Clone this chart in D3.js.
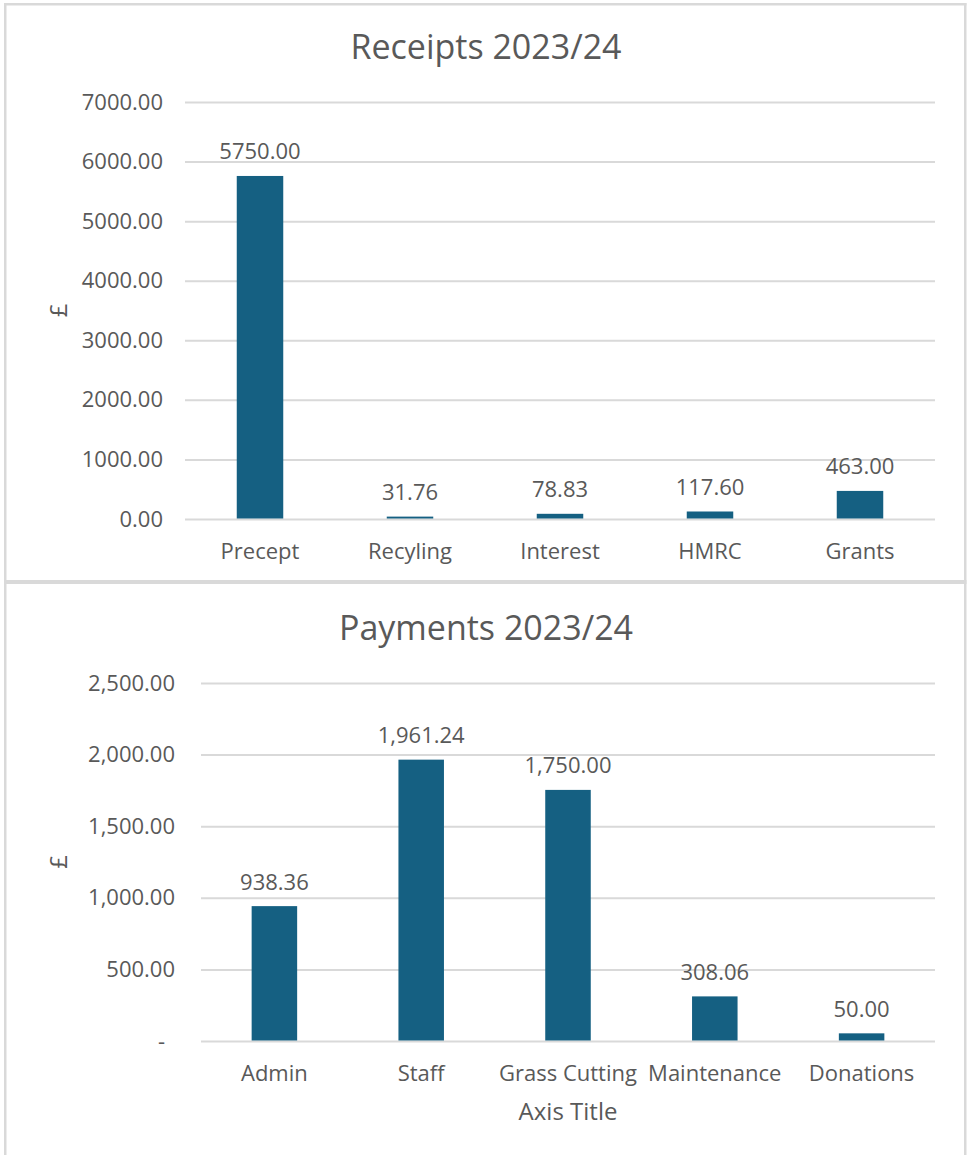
<!DOCTYPE html>
<html>
<head>
<meta charset="utf-8">
<script src="https://cdn.jsdelivr.net/npm/d3@7"></script>
<style>
  html, body { margin: 0; padding: 0; background: #fff; }
  svg { display: block; }
  text { font-family: "Open Sans", "Liberation Sans", sans-serif; fill: #595959; }
</style>
</head>
<body>
<svg id="chart" width="971" height="1155"></svg>
<script>
// ---- Data ----
const receiptCategories = ["Precept", "Recyling", "Interest", "HMRC", "Grants"];
const receiptValues = [5750.00, 31.76, 78.83, 117.60, 463.00];
const receiptTicks = [0, 1000, 2000, 3000, 4000, 5000, 6000, 7000];

const paymentCategories = ["Admin", "Staff", "Grass Cutting", "Maintenance", "Donations"];
const paymentValues = [938.36, 1961.24, 1750.00, 308.06, 50.00];
const paymentTicks = [0, 500, 1000, 1500, 2000, 2500];

const barColor = "#156082";
const gridColor = "#d9d9d9";

const svg = d3.select("#chart");

// panel frames
const frame = svg.append("g").attr("fill", gridColor);
frame.append("rect").attr("x", 4).attr("y", 3).attr("width", 2.5).attr("height", 1152);
frame.append("rect").attr("x", 964).attr("y", 3).attr("width", 2.5).attr("height", 1152);
frame.append("rect").attr("x", 4).attr("y", 3).attr("width", 962.5).attr("height", 2.5);
frame.append("rect").attr("x", 4).attr("y", 580).attr("width", 962.5).attr("height", 4);

function drawChart(cfg) {
  const g = svg.append("g");
  const x = d3.scaleBand().domain(cfg.categories).range([cfg.left, cfg.right])
    .paddingInner(0.69).paddingOuter(0.345);
  const y = d3.scaleLinear().domain([0, d3.max(cfg.ticks)]).range([cfg.bottom, cfg.top]);

  // title
  g.append("text").attr("x", cfg.titleX).attr("y", cfg.titleY)
    .attr("text-anchor", "middle").style("font-size", "34px").text(cfg.title);

  // gridlines
  const yAxis = d3.axisLeft(y).tickValues(cfg.ticks).tickFormat(cfg.tickFormat)
    .tickSize(-(cfg.right - cfg.left)).tickPadding(cfg.left - cfg.labelRight);
  const ax = g.append("g").attr("transform", `translate(${cfg.left},0)`).call(yAxis);
  ax.select(".domain").remove();
  ax.selectAll(".tick line").attr("stroke", gridColor).attr("stroke-width", 2);
  ax.selectAll(".tick text").style("font-size", "22px").attr("fill", "#595959")
    .attr("dx", d => d === 0 && cfg.tickFormat(d) === "-" ? -10 : 0);

  // bars
  g.selectAll("rect.bar").data(cfg.values).join("rect")
    .attr("class", "bar")
    .attr("x", (d, i) => x(cfg.categories[i]))
    .attr("width", x.bandwidth())
    .attr("y", d => y(d) - 0.5)
    .attr("height", d => y(0) - y(d))
    .attr("fill", barColor);

  // value labels
  g.selectAll("text.val").data(cfg.values).join("text")
    .attr("class", "val")
    .attr("x", (d, i) => x(cfg.categories[i]) + x.bandwidth() / 2)
    .attr("y", d => y(d) - 17)
    .attr("text-anchor", "middle").style("font-size", "22px")
    .text(d => cfg.valueFormat(d));

  // category labels
  g.selectAll("text.cat").data(cfg.categories).join("text")
    .attr("class", "cat")
    .attr("x", d => x(d) + x.bandwidth() / 2)
    .attr("y", cfg.bottom + 40)
    .attr("text-anchor", "middle").style("font-size", "22px")
    .text(d => d);

  // y axis title
  g.append("text")
    .attr("transform", `translate(${cfg.yTitleX},${(cfg.top + cfg.bottom) / 2}) rotate(-90)`)
    .attr("text-anchor", "middle").style("font-size", "24px").text("£");

  if (cfg.xTitle) {
    g.append("text").attr("x", (cfg.left + cfg.right) / 2).attr("y", cfg.bottom + 79)
      .attr("text-anchor", "middle").style("font-size", "24px").text(cfg.xTitle);
  }
}

drawChart({
  title: "Receipts 2023/24", titleX: 486, titleY: 59,
  categories: receiptCategories, values: receiptValues, ticks: receiptTicks,
  left: 185, right: 935, top: 102, bottom: 519, labelRight: 163, yTitleX: 67,
  tickFormat: d3.format(".2f"), valueFormat: d3.format(".2f")
});

const commaFmt = d3.format(",.2f");
drawChart({
  title: "Payments 2023/24", titleX: 486, titleY: 640,
  categories: paymentCategories, values: paymentValues, ticks: paymentTicks,
  left: 201, right: 935, top: 683, bottom: 1041, labelRight: 175, yTitleX: 67,
  tickFormat: d => d === 0 ? "-" : commaFmt(d), valueFormat: commaFmt,
  xTitle: "Axis Title"
});
</script>
</body>
</html>
